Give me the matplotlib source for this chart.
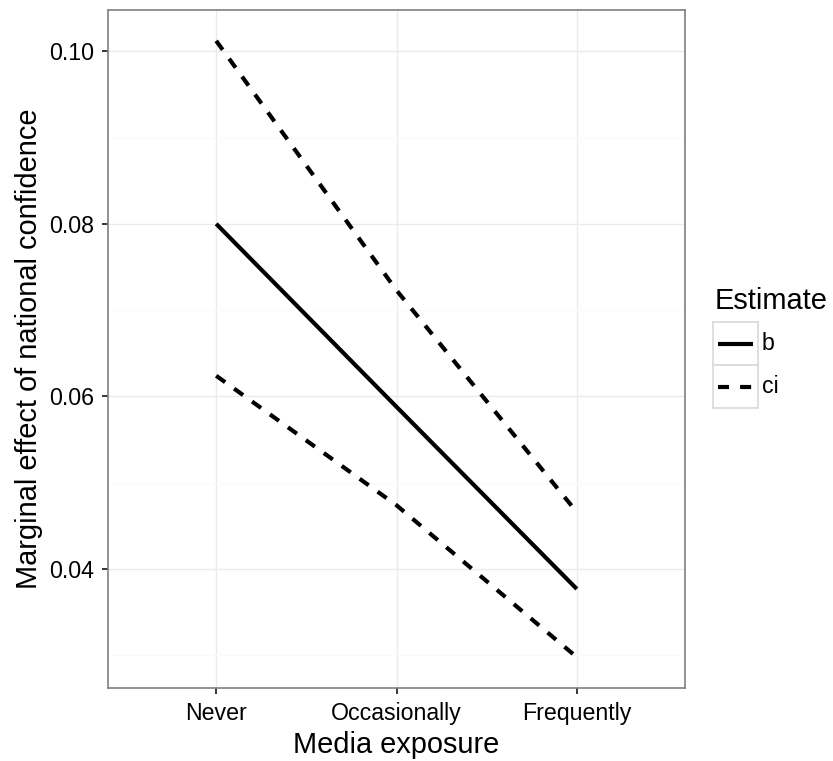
import matplotlib
matplotlib.use("Agg")
import matplotlib.pyplot as plt
from matplotlib.lines import Line2D
from matplotlib.ticker import MultipleLocator

plt.rcParams['font.family'] = ['Liberation Sans', 'DejaVu Sans']

categories = ["Never", "Occasionally", "Frequently"]
b_values = [0.0800, 0.0588, 0.0377]
ci_upper = [0.1012, 0.0723, 0.0466]
ci_lower = [0.0624, 0.0474, 0.0298]
y_ticks = [0.04, 0.06, 0.08, 0.10]
y_tick_labels = ["0.04", "0.06", "0.08", "0.10"]
legend_labels = ["b", "ci"]

W, H = 833, 761
fig = plt.figure(figsize=(W / 100, H / 100), dpi=100)
L, R, T, B = 108, 685, 10, 688
ax = fig.add_axes([L / W, 1 - B / H, (R - L) / W, (B - T) / H])

x = list(range(len(categories)))
lw = 3.0
dash = (0, (2.65, 2.65))
ax.plot(x, b_values, color='black', lw=lw, solid_capstyle='butt', zorder=3)
for s in (ci_upper, ci_lower):
    ax.plot(x, s, color='black', lw=lw, linestyle=dash, dash_capstyle='butt', zorder=3)

allv = b_values + ci_upper + ci_lower
lo, hi = min(allv), max(allv)
pad = (hi - lo) * 0.05
ax.set_ylim(lo - pad, hi + pad)
ax.set_xlim(-0.6, len(categories) - 1 + 0.6)

ax.set_xticks(x)
ax.set_xticklabels(categories)
ax.set_yticks(y_ticks)
ax.set_yticklabels(y_tick_labels)
ax.yaxis.set_minor_locator(MultipleLocator(0.01))
ax.tick_params(axis='both', which='major', labelsize=16.7, colors='black',
               length=4.3, width=1.1)
ax.tick_params(axis='y', which='major', pad=5.8)
ax.tick_params(axis='x', which='major', pad=5.5)
ax.tick_params(axis='both', which='minor', length=0)

ax.grid(True, which='major', color='#ebebeb', lw=1.0, zorder=0)
ax.grid(True, which='minor', axis='y', color='#fafafa', lw=1.0, zorder=0)
ax.set_axisbelow(True)
for sp in ax.spines.values():
    sp.set_color('#7f7f7f')
    sp.set_linewidth(1.2)

fig.text(((L + R) / 2) / W, 1 - 753 / H, "Media exposure", fontsize=20.9,
         ha='center', va='baseline')
fig.text(29 / W, 1 - ((T + B) / 2) / H, "Marginal effect of national confidence",
         fontsize=20.9, ha='center', va='center', rotation=90)

# legend
fig.text(715 / W, 1 - 309 / H, "Estimate", fontsize=20.9, ha='left', va='baseline')
styles = ['-', dash]
key_top = 322
key_h = 43
for i, (lab, st) in enumerate(zip(legend_labels, styles)):
    y0 = key_top + i * key_h
    kax = fig.add_axes([713 / W, 1 - (y0 + key_h) / H, 45 / W, key_h / H])
    kax.set_xlim(0, 1)
    kax.set_ylim(0, 1)
    kax.set_xticks([])
    kax.set_yticks([])
    for sp in kax.spines.values():
        sp.set_color('#d9d9d9')
        sp.set_linewidth(1.2)
    kax.add_line(Line2D([0.11, 0.89], [0.5, 0.5], color='black', lw=lw, linestyle=st,
                        solid_capstyle='butt', dash_capstyle='butt'))
    fig.text(762 / W, 1 - (y0 + key_h / 2) / H, lab, fontsize=16.7, ha='left', va='center')

fig.savefig("out.png", dpi=100)
